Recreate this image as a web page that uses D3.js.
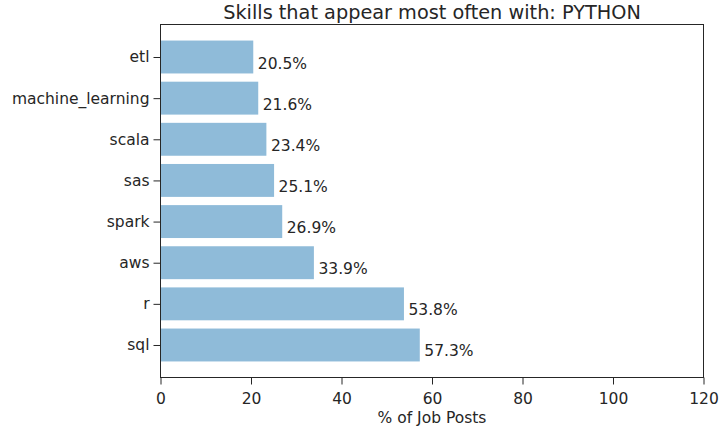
<!DOCTYPE html>
<html>
<head>
<meta charset="utf-8">
<script src="https://cdn.jsdelivr.net/npm/d3@7"></script>
<style>
  html, body { margin: 0; padding: 0; background: #fff; }
  svg { display: block; font-family: "DejaVu Sans", sans-serif; }
</style>
</head>
<body>
<svg id="chart" width="726" height="433"></svg>
<script>
const skills = ["sql", "r", "aws", "spark", "sas", "scala", "machine_learning", "etl"];
const percents = [57.3, 53.8, 33.9, 26.9, 25.1, 23.4, 21.6, 20.5];
const xTicks = [0, 20, 40, 60, 80, 100, 120];
const titleText = "Skills that appear most often with: PYTHON";
const xLabelText = "% of Job Posts";

const svg = d3.select("#chart");
const W = 726, H = 433;
const margin = { left: 160.5, right: W - 703.5, top: 24.5, bottom: H - 377.5 };
const iw = W - margin.left - margin.right;
const ih = H - margin.top - margin.bottom;
const fs = 15.5;

const x = d3.scaleLinear().domain([0, 120]).range([margin.left, margin.left + iw]);
const n = skills.length;
const lo = -0.4, hi = n - 1 + 0.4, pad = (hi - lo) * 0.05;
const y = d3.scaleLinear().domain([lo - pad, hi + pad]).range([margin.top + ih, margin.top]);
const bh = 0.8;

const data = skills.map((s, i) => ({ s, v: percents[i], i }));

const g = svg.append("g");
g.selectAll("rect.bar").data(data).enter().append("rect")
  .attr("class", "bar")
  .attr("x", x(0))
  .attr("y", d => y(d.i + bh / 2))
  .attr("width", d => x(d.v) - x(0))
  .attr("height", d => y(d.i - bh / 2) - y(d.i + bh / 2))
  .attr("fill", "#8fbbd9");

g.selectAll("text.val").data(data).enter().append("text")
  .attr("class", "val")
  .attr("x", d => x(d.v + 1))
  .attr("y", d => y(d.i) + 7)
  .attr("dominant-baseline", "middle")
  .attr("font-size", fs)
  .attr("fill", "#262626")
  .text(d => d.v.toFixed(1) + "%");

svg.append("rect")
  .attr("x", margin.left).attr("y", margin.top)
  .attr("width", iw).attr("height", ih)
  .attr("fill", "none").attr("stroke", "#262626").attr("stroke-width", 1);

const xAxis = d3.axisBottom(x).tickValues(xTicks).tickSize(7).tickPadding(8).tickFormat(d3.format("d"));
const xg = svg.append("g").attr("transform", `translate(0,${margin.top + ih})`).call(xAxis);
xg.select(".domain").remove();
xg.selectAll("line").attr("stroke", "#262626");
xg.selectAll("text").attr("font-size", fs).attr("fill", "#262626").attr("font-family", "DejaVu Sans");

const yAxis = d3.axisLeft(y).tickValues(d3.range(n)).tickSize(7).tickPadding(4).tickFormat(i => skills[i]);
const yg = svg.append("g").attr("transform", `translate(${margin.left},0)`).call(yAxis);
yg.select(".domain").remove();
yg.selectAll("line").attr("stroke", "#262626");
yg.selectAll("text").attr("font-size", fs).attr("fill", "#262626").attr("font-family", "DejaVu Sans");

svg.append("text")
  .attr("x", margin.left + iw / 2).attr("y", 18.5)
  .attr("text-anchor", "middle")
  .attr("font-size", 19.3).attr("fill", "#262626")
  .text(titleText);

svg.append("text")
  .attr("x", margin.left + iw / 2).attr("y", 423)
  .attr("text-anchor", "middle")
  .attr("font-size", fs).attr("fill", "#262626")
  .text(xLabelText);
</script>
</body>
</html>
